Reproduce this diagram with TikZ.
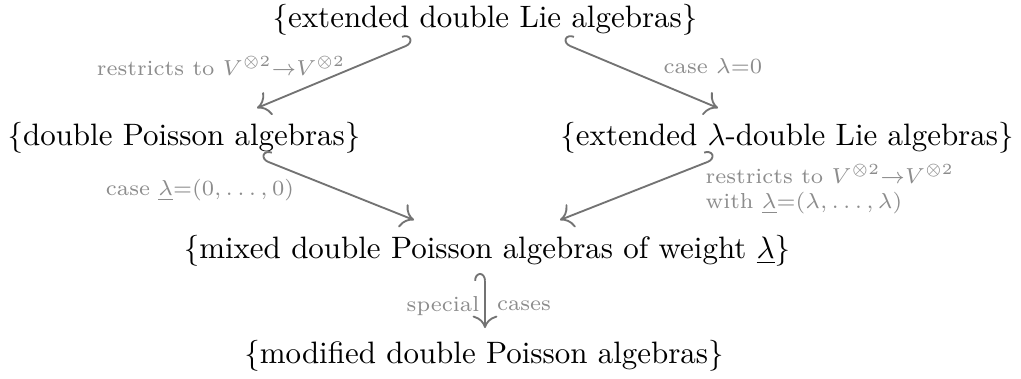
\documentclass[tikz,border=0pt]{standalone}
\usetikzlibrary{arrows.meta,calc}
\begin{document}
\begin{tikzpicture}[x=0.323pt,y=-0.323pt,
  obj/.style={anchor=base,inner sep=0pt,font=\normalsize},
  lbl/.style={font=\scriptsize,text=black!45,inner sep=0pt},
  hookr/.style={draw=black!55,line width=0.6pt,{Hooks[right,length=2.5pt,width=7pt]}-{Computer Modern Rightarrow[length=4pt,width=8pt]}},
  hookl/.style={draw=black!55,line width=0.6pt,{Hooks[left,length=2.5pt,width=7pt]}-{Computer Modern Rightarrow[length=4pt,width=8pt]}}]
\useasboundingbox (0,0) rectangle (1021,378);
\node[obj] (top) at (485,27) {\{extended double Lie algebras\}};
\node[obj] (dpa) at (184,145) {\{double Poisson algebras\}};
\node[obj] (edl) at (787,145) {\{extended $\lambda$-double Lie algebras\}};
\node[obj] (mix) at (487,258) {\{mixed double Poisson algebras of weight $\underline{\lambda}$\}};
\node[obj] (mod) at (484,363) {\{modified double Poisson algebras\}};
\coordinate (a1s) at ($(top.base)+(-72,16)$);
\coordinate (a1e) at ($(dpa.base)+(73,-37)$);
\coordinate (a2s) at ($(top.base)+(78,16)$);
\coordinate (a2e) at ($(edl.base)+(-69,-37)$);
\coordinate (a3s) at ($(dpa.base)+(77,14)$);
\coordinate (a3e) at ($(mix.base)+(-73,-38)$);
\coordinate (a4s) at ($(edl.base)+(-72,14)$);
\coordinate (a4e) at ($(mix.base)+(73,-38)$);
\coordinate (a5s) at ($(mix.base)+(-2,15)$);
\coordinate (a5e) at ($(mod.base)+(1,-35)$);
\draw[hookl] (a1s) -- (a1e);
\draw[hookr] (a2s) -- (a2e);
\draw[hookr] (a3s) -- (a3e);
\draw[hookl] (a4s) -- (a4e);
\draw[hookl] (a5s) -- (a5e);
\node[lbl] (l1) at (221,66) {restricts to $V^{\otimes 2}{\to}V^{\otimes 2}$};
\node[lbl] (l2) at (713,66) {case $\lambda{=}0$};
\node[lbl] (l3) at (200,190) {case $\underline{\lambda}{=}(0,\ldots,0)$};
\node[lbl,align=left,anchor=west] (l4) at (705,189) {restricts to $V^{\otimes 2}{\to}V^{\otimes 2}$\\ with $\underline{\lambda}{=}(\lambda,\ldots,\lambda)$};
\node[lbl] (l5a) at (443,306) {special};
\node[lbl] (l5b) at (524,306) {cases};
\end{tikzpicture}
\end{document}
